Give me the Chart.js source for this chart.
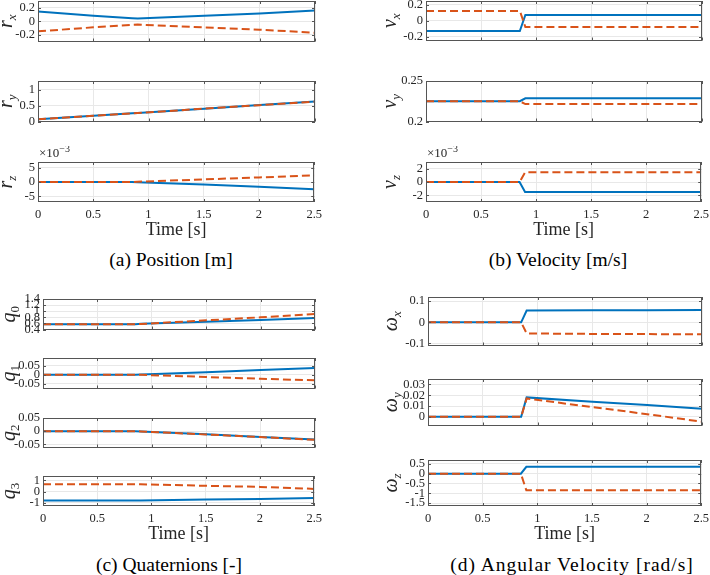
<!DOCTYPE html>
<html>
<head>
<meta charset="utf-8">
<script src="https://cdn.jsdelivr.net/npm/chart.js@4.4.1/dist/chart.umd.min.js"></script>
<style>
  body { margin: 0; background: #fff; width: 710px; height: 575px; overflow: hidden; position: relative; font-family: "Liberation Serif", serif; }
  canvas { position: absolute; }
  .caption { position: absolute; font-size: 19.5px; color: #000; white-space: nowrap; transform: translate(-50%, -50%); }
</style>
</head>
<body>
<div class="caption" style="left:171px; top:260px">(a) Position [m]</div>
<div class="caption" style="left:558px; top:260px">(b) Velocity [m/s]</div>
<div class="caption" style="left:169px; top:565px">(c) Quaternions [-]</div>
<div class="caption" style="left:572px; top:565px; letter-spacing:1px">(d) Angular Velocity [rad/s]</div>
<script>
// sample times shared by every series
const time = [0, 0.5, 0.85, 0.9, 1.5, 2, 2.5];
const timeTicks = [0, 0.5, 1, 1.5, 2, 2.5];

// (a) position, r_z in 1e-3 m
const rxBlue = [0.145, 0.08, 0.045, 0.04, 0.08, 0.115, 0.16];
const rxRed = [-0.15, -0.09, -0.055, -0.05, -0.09, -0.125, -0.17];
const ryBlue = [0.07, 0.18, 0.26, 0.27, 0.405, 0.52, 0.635];
const ryRed = [0.07, 0.18, 0.26, 0.27, 0.405, 0.515, 0.625];
const rzBlue = [0, 0, 0, -0.1, -0.9, -1.7, -2.5];
const rzRed = [0, 0, 0, 0.1, 0.9, 1.6, 2.3];

// (b) velocity, v_z in 1e-3 m/s
const vxBlue = [-0.13, -0.13, -0.13, 0.073, 0.073, 0.073, 0.073];
const vxRed = [0.125, 0.125, 0.125, -0.08, -0.08, -0.08, -0.08];
const vyBlue = [0.225, 0.225, 0.225, 0.2287, 0.2287, 0.2287, 0.2287];
const vyRed = [0.225, 0.225, 0.225, 0.2215, 0.2215, 0.2215, 0.2215];
const vzBlue = [0, 0, 0, -1.5, -1.5, -1.5, -1.5];
const vzRed = [0, 0, 0, 1.45, 1.45, 1.45, 1.45];

// (c) quaternions
const q0Blue = [0.575, 0.575, 0.575, 0.585, 0.655, 0.715, 0.775];
const q0Red = [0.57, 0.57, 0.57, 0.58, 0.7, 0.8, 0.91];
const q1Blue = [0, 0, 0, 0.001, 0.014, 0.026, 0.037];
const q1Red = [0, 0, 0, -0.001, -0.013, -0.023, -0.032];
const q2Blue = [0, 0, 0, -0.001, -0.012, -0.022, -0.032];
const q2Red = [0, 0, 0, -0.001, -0.0125, -0.0225, -0.033];
const q3Blue = [-0.8, -0.8, -0.8, -0.8, -0.72, -0.66, -0.59];
const q3Red = [0.66, 0.66, 0.66, 0.65, 0.52, 0.42, 0.24];

// (d) angular velocity
const wxBlue = [0, 0, 0, 0.056, 0.057, 0.057, 0.058];
const wxRed = [0, 0, 0, -0.053, -0.055, -0.056, -0.057];
const wyBlue = [0, 0, 0, 0.018, 0.014, 0.011, 0.0074];
const wyRed = [0, 0, 0, 0.017, 0.009, 0.0025, -0.0045];
const wzBlue = [0, 0, 0, 0.35, 0.35, 0.35, 0.35];
const wzRed = [0, 0, 0, -0.85, -0.85, -0.85, -0.85];

// y tick labels
const rxTicks = [-0.2, 0, 0.2];
const ryTicks = [0, 0.5, 1];
const rzTicks = [-5, 0, 5];
const vxTicks = [-0.2, 0, 0.2];
const vyTicks = [0.2, 0.25];
const vzTicks = [-2, 0, 2];
const q0Ticks = [0.4, 0.6, 0.8, 1, 1.2, 1.4];
const q1Ticks = [-0.05, 0, 0.05];
const q2Ticks = [-0.05, 0, 0.05];
const q3Ticks = [-1, 0, 1];
const wxTicks = [-0.1, 0, 0.1];
const wyTicks = [0, 0.01, 0.02, 0.03];
const wzTicks = [-1.5, -1, -0.5, 0, 0.5];

const BLUE = '#0072BD';
const RED = '#D95319';
const INK = '#262626';
const GRID = '#e8e8e8';
const BOX = '#555555';
const FONT = '"Liberation Serif", serif';

// box = [left, top, right, bottom] of the plot area on the page
const plots = [
  { sym: 'r', sub: 'x', blue: rxBlue, red: rxRed, min: -0.3, max: 0.3, ticks: rxTicks, box: [38, 1, 315, 42], off: 30 },
  { sym: 'r', sub: 'y', blue: ryBlue, red: ryRed, min: 0, max: 1.28, ticks: ryTicks, box: [38, 81, 315, 122], off: 30 },
  { sym: 'r', sub: 'z', blue: rzBlue, red: rzRed, min: -7, max: 7, ticks: rzTicks, box: [38, 162, 315, 202], off: 30, exp: true, bottom: true },
  { sym: 'v', sub: 'x', blue: vxBlue, red: vxRed, min: -0.25, max: 0.25, ticks: vxTicks, box: [426, 1, 702, 41], off: 34 },
  { sym: 'v', sub: 'y', blue: vyBlue, red: vyRed, min: 0.2, max: 0.25, ticks: vyTicks, box: [426, 81, 702, 122], off: 34 },
  { sym: 'v', sub: 'z', blue: vzBlue, red: vzRed, min: -3, max: 3, ticks: vzTicks, box: [426, 162, 702, 202], off: 34, exp: true, bottom: true },
  { sym: 'q', sub: '0', blue: q0Blue, red: q0Red, min: 0.4, max: 1.4, ticks: q0Ticks, box: [43, 299, 315, 330], off: 32 },
  { sym: 'q', sub: '1', blue: q1Blue, red: q1Red, min: -0.078, max: 0.094, ticks: q1Ticks, box: [43, 358, 315, 389], off: 32 },
  { sym: 'q', sub: '2', blue: q2Blue, red: q2Red, min: -0.062, max: 0.05, ticks: q2Ticks, box: [43, 418, 315, 448], off: 32 },
  { sym: 'q', sub: '3', blue: q3Blue, red: q3Red, min: -1.3, max: 1.4, ticks: q3Ticks, box: [43, 476, 315, 506], off: 32, bottom: true },
  { sym: 'ω', sub: 'x', blue: wxBlue, red: wxRed, min: -0.11, max: 0.12, ticks: wxTicks, box: [428, 297, 702, 346], off: 35 },
  { sym: 'ω', sub: 'y', blue: wyBlue, red: wyRed, min: -0.008, max: 0.035, ticks: wyTicks, box: [428, 379, 702, 426], off: 35 },
  { sym: 'ω', sub: 'z', blue: wzBlue, red: wzRed, min: -1.65, max: 0.7, ticks: wzTicks, box: [428, 460, 702, 506], off: 35, bottom: true }
];

const ML = 44, MR = 12, MT = 16;

// box, inward ticks, y label and the x10^-3 note
const figAxes = {
  id: 'figAxes',
  afterDraw(chart, args, opts) {
    const { ctx, chartArea: a, scales: { x, y } } = chart;
    ctx.save();
    ctx.strokeStyle = BOX;
    ctx.lineWidth = 1;
    ctx.beginPath();
    y.ticks.forEach(t => {
      const py = Math.round(y.getPixelForValue(t.value)) + 0.5;
      ctx.moveTo(a.left, py); ctx.lineTo(a.left + 3, py);
      ctx.moveTo(a.right, py); ctx.lineTo(a.right - 3, py);
    });
    x.ticks.forEach(t => {
      const px = Math.round(x.getPixelForValue(t.value)) + 0.5;
      ctx.moveTo(px, a.bottom); ctx.lineTo(px, a.bottom - 3);
      ctx.moveTo(px, a.top); ctx.lineTo(px, a.top + 3);
    });
    ctx.stroke();
    ctx.strokeRect(Math.round(a.left) + 0.5, Math.round(a.top) + 0.5, Math.round(a.width) - 1, Math.round(a.height) - 1);

    ctx.fillStyle = INK;
    if (opts.exp) {
      ctx.textBaseline = 'alphabetic';
      ctx.textAlign = 'left';
      ctx.font = '13px ' + FONT;
      ctx.fillText('×10', a.left + 1, a.top - 5);
      const w = ctx.measureText('×10').width;
      ctx.font = '10px ' + FONT;
      ctx.fillText('−3', a.left + 1 + w, a.top - 10);
    }

    ctx.translate(a.left - opts.off, (a.top + a.bottom) / 2);
    ctx.rotate(-Math.PI / 2);
    ctx.textAlign = 'left';
    ctx.textBaseline = 'alphabetic';
    ctx.font = 'italic 20px ' + FONT;
    const bw = ctx.measureText(opts.sym).width;
    const subFont = /\d/.test(opts.sub) ? '13px ' : 'italic 13px ';
    ctx.font = subFont + FONT;
    const sw = ctx.measureText(opts.sub).width;
    const x0 = -(bw + sw) / 2;
    ctx.font = 'italic 20px ' + FONT;
    ctx.fillText(opts.sym, x0, 4);
    ctx.font = subFont + FONT;
    ctx.fillText(opts.sub, x0 + bw, 8);
    ctx.restore();
  }
};

function toXY(vals) {
  return time.map((t, i) => ({ x: t, y: vals[i] }));
}

function makePlot(p) {
  const [l, t, r, b] = p.box;
  const MB = p.bottom ? 40 : 10;
  const c = document.createElement('canvas');
  c.width = r - l + ML + MR;
  c.height = b - t + MT + MB;
  c.style.left = (l - ML) + 'px';
  c.style.top = (t - MT) + 'px';
  document.body.appendChild(c);

  new Chart(c, {
    type: 'line',
    data: {
      datasets: [
        { data: toXY(p.blue), borderColor: BLUE, borderWidth: 2, order: 1 },
        { data: toXY(p.red), borderColor: RED, borderWidth: 2, borderDash: [8, 4], order: 0 }
      ]
    },
    options: {
      responsive: false,
      animation: false,
      events: [],
      layout: { padding: { top: MT, right: MR, left: 0, bottom: 0 } },
      elements: {
        point: { radius: 0 },
        line: { tension: 0, borderCapStyle: 'butt', fill: false }
      },
      plugins: {
        legend: { display: false },
        tooltip: { enabled: false },
        figAxes: { sym: p.sym, sub: p.sub, exp: !!p.exp, off: p.off }
      },
      scales: {
        x: {
          type: 'linear',
          min: 0,
          max: 2.5,
          afterBuildTicks: s => { s.ticks = timeTicks.map(v => ({ value: v })); },
          afterFit: s => { s.height = MB; },
          grid: { color: GRID, drawTicks: false },
          border: { display: false },
          ticks: {
            display: !!p.bottom,
            padding: 5,
            maxRotation: 0,
            color: INK,
            font: { family: FONT, size: 12.5 },
            callback: v => String(v)
          },
          title: {
            display: !!p.bottom,
            text: 'Time [s]',
            color: INK,
            font: { family: FONT, size: 18 },
            padding: { top: 0, bottom: 1 }
          }
        },
        y: {
          type: 'linear',
          min: p.min,
          max: p.max,
          afterBuildTicks: s => { s.ticks = p.ticks.map(v => ({ value: v })); },
          afterFit: s => { s.width = ML; },
          grid: { color: GRID, drawTicks: false },
          border: { display: false },
          ticks: {
            padding: 3,
            autoSkip: false,
            color: INK,
            font: { family: FONT, size: 12.5 },
            callback: v => String(v)
          }
        }
      }
    },
    plugins: [figAxes]
  });
}

plots.forEach(makePlot);
</script>
</body>
</html>
